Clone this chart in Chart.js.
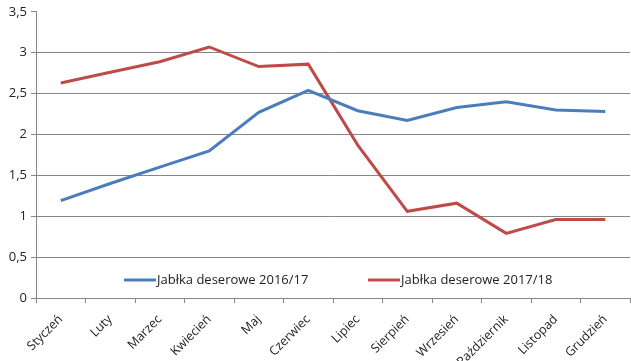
<!DOCTYPE html>
<html>
<head>
<meta charset="utf-8">
<script src="https://cdn.jsdelivr.net/npm/chart.js@4"></script>
<style>
  html, body { margin: 0; padding: 0; background: #ffffff; }
  #wrap { width: 631px; height: 361px; }
</style>
</head>
<body>
<div id="wrap"><canvas id="chart" width="631" height="361"></canvas></div>
<script>
// Dane
const months = ['Styczeń', 'Luty', 'Marzec', 'Kwiecień', 'Maj', 'Czerwiec', 'Lipiec', 'Sierpień', 'Wrzesień', 'Październik', 'Listopad', 'Grudzień'];
const apples1617 = [1.19, 1.40, 1.60, 1.80, 2.27, 2.54, 2.29, 2.17, 2.33, 2.40, 2.30, 2.28];
const apples1718 = [2.63, 2.76, 2.89, 3.07, 2.83, 2.86, 1.87, 1.06, 1.16, 0.79, 0.96, 0.96];
const seriesNames = ['Jabłka deserowe 2016/17', 'Jabłka deserowe 2017/18'];
const yTicks = [0, 0.5, 1, 1.5, 2, 2.5, 3, 3.5];

const FONT = '"Open Sans", sans-serif';

// Legenda rysowana wewnątrz obszaru wykresu
const innerLegend = {
    id: 'innerLegend',
    afterDraw(chart) {
        const ctx = chart.ctx;
        const y = 280;
        const items = [
            { x: 124, color: chart.data.datasets[0].borderColor, text: chart.data.datasets[0].label },
            { x: 368, color: chart.data.datasets[1].borderColor, text: chart.data.datasets[1].label }
        ];
        ctx.save();
        ctx.font = '13px ' + FONT;
        ctx.textBaseline = 'middle';
        ctx.fillStyle = '#222222';
        items.forEach(it => {
            ctx.strokeStyle = it.color;
            ctx.lineWidth = 3;
            ctx.beginPath();
            ctx.moveTo(it.x, y);
            ctx.lineTo(it.x + 32, y);
            ctx.stroke();
            ctx.fillText(it.text, it.x + 33, y);
        });
        ctx.restore();
    }
};

const ctx = document.getElementById('chart').getContext('2d');
new Chart(ctx, {
    type: 'line',
    data: {
        labels: months,
        datasets: [{
            label: seriesNames[0],
            data: apples1617,
            borderColor: '#4a7ebb',
            borderWidth: 3,
            pointRadius: 0,
            tension: 0,
            fill: false
        }, {
            label: seriesNames[1],
            data: apples1718,
            borderColor: '#be4b48',
            borderWidth: 3,
            pointRadius: 0,
            tension: 0,
            fill: false
        }]
    },
    options: {
        responsive: false,
        animation: false,
        layout: { padding: { top: 10, right: 1, left: 0, bottom: 0 } },
        plugins: {
            legend: { display: false },
            tooltip: { enabled: false }
        },
        scales: {
            x: {
                offset: true,
                grid: {
                    offset: true,
                    drawOnChartArea: false,
                    drawTicks: true,
                    tickLength: 5,
                    color: '#868686'
                },
                border: { display: true, color: '#868686' },
                ticks: {
                    color: '#222222',
                    font: { family: FONT, size: 12.5 },
                    maxRotation: 45,
                    minRotation: 45,
                    autoSkip: false,
                    padding: 9
                },
                afterFit(scale) { scale.height = 63; }
            },
            y: {
                min: 0,
                max: 3.5,
                afterBuildTicks(scale) {
                    scale.ticks = yTicks.map(v => ({ value: v }));
                },
                grid: {
                    color: c => (c.tick && c.tick.value === 3.5) ? 'rgba(0,0,0,0)' : '#868686',
                    tickLength: 5,
                    tickColor: '#868686'
                },
                border: { display: true, color: '#868686' },
                ticks: {
                    color: '#222222',
                    font: { family: FONT, size: 13 },
                    padding: 4,
                    callback: v => String(v).replace('.', ',')
                },
                afterFit(scale) { scale.width = 36; }
            }
        }
    },
    plugins: [innerLegend]
});
</script>
</body>
</html>
